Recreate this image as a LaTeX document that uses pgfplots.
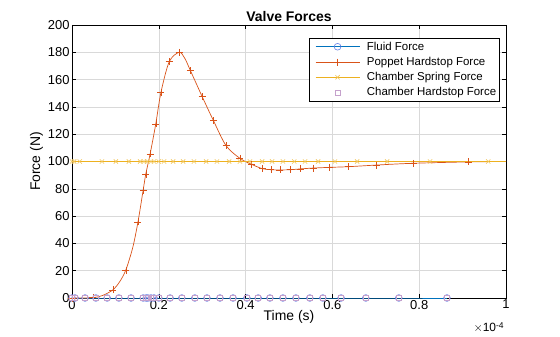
\documentclass[border=0pt]{standalone}
\usepackage{fontspec}
\setmainfont{Liberation Sans}
\usepackage{pgfplots}
\pgfplotsset{compat=1.18}
\definecolor{mblue}{rgb}{0,0.447,0.741}
\definecolor{morange}{rgb}{0.85,0.325,0.098}
\definecolor{myellow}{rgb}{0.929,0.694,0.125}
\definecolor{mpurple}{rgb}{0.494,0.184,0.556}
\definecolor{circcol}{rgb}{0.40,0.50,0.90}
\begin{document}
\begin{tikzpicture}
\useasboundingbox (-72bp,-39bp) rectangle (488bp,298bp);
\begin{axis}[
  name=ax,
  at={(0,0)}, anchor=south west,
  scale only axis,
  width=434bp, height=273bp,
  xmin=0, xmax=1, ymin=0, ymax=200,
  xtick={0,0.2,...,1}, ytick={0,20,...,200},
  xticklabels={0,0.2,0.4,0.6,0.8,1},
  grid=major,
  major grid style={color=black!15, line width=0.5bp},
  tick align=inside, tick pos=both,
  major tick length=4bp,
  axis line style={line width=0.6bp},
  every tick/.style={black, line width=0.5bp},
  tick label style={font=\fontsize{13}{15}\selectfont},
  yticklabel style={xshift=1bp},
  xticklabel style={yshift=1.5bp},
  /pgf/number format/assume math mode=true,
  xlabel={Time (s)}, ylabel={Force (N)},
  label style={font=\fontsize{14}{16}\selectfont},
  xlabel style={yshift=6bp},
  ylabel style={yshift=-2bp},
  title={\textbf{Valve Forces}},
  title style={font=\fontsize{14}{16}\selectfont, yshift=-6bp},
  clip=false,
  legend style={at={(0.986,0.952)}, anchor=north east, draw=black, line width=0.5bp,
    font=\fontsize{11.5}{13}\selectfont, inner sep=1.5bp, row sep=1.5bp,
    cells={anchor=west}},
  legend image code/.code={%
    \path (0bp,0bp) (53bp,0bp);
    \draw[#1, mark indices={2}] plot coordinates {(4bp,0bp) (26bp,0bp) (48bp,0bp)};},
]
% Fluid Force
\addplot[color=mblue, line width=0.7bp, mark=o, mark size=3.4bp,
  mark options={solid, draw=circcol, line width=0.6bp}] coordinates {
(0,0) (0.007,0) (0.030,0) (0.055,0) (0.081,0) (0.108,0) (0.136,0) (0.164,0) (0.171,0) (0.175,0)
(0.182,0) (0.189,0) (0.200,0) (0.226,0) (0.253,0) (0.283,0) (0.311,0) (0.341,0) (0.371,0) (0.403,0)
(0.429,0) (0.456,0) (0.486,0) (0.516,0) (0.548,0) (0.578,0) (0.620,0) (0.677,0) (0.753,0) (0.864,0)
};
\addlegendentry{Fluid Force}
% Poppet Hardstop Force
\addplot[color=morange, line width=0.7bp, smooth, mark=+, mark size=3.5bp,
  mark options={solid, draw=morange, line width=0.5bp},
  mark indices={1,3,5,7,9,10,11,12,13,14,15,16,18,19,20,21,22,23,24,25,26,27,28,29,30,31,32,33,34}] coordinates {
(0,0) (0.02,0) (0.048,0.2) (0.07,1.8) (0.094,5.9) (0.11,12) (0.124,20.5) (0.14,37) (0.152,55.7)
(0.164,79.1) (0.170,90.8) (0.180,105.5) (0.193,127.5) (0.205,150.7) (0.224,173.1) (0.247,180)
(0.260,175.5) (0.273,166.5) (0.300,147.5) (0.326,129.9) (0.355,111.6) (0.387,102.3) (0.414,97.9)
(0.439,94.7) (0.458,94.0) (0.479,93.8) (0.504,94.0) (0.527,94.6) (0.556,95.2) (0.593,95.7)
(0.637,96.2) (0.702,97.4) (0.786,98.7) (0.913,99.7) (1.0,100)
};
\addlegendentry{Poppet Hardstop Force}
% Chamber Spring Force
\addplot[color=myellow, line width=0.7bp, mark=x, mark size=3bp,
  mark options={solid, draw=myellow!75, line width=0.6bp},
  mark indices={1,2,3,4,5,6,7,8,9,10,11,12,13,14,15,16,17,18,19,20,21,22,23,24,25,26,27,28,29,30,31,32}] coordinates {
(0,100) (0.005,100) (0.018,100) (0.069,100) (0.101,100) (0.131,100) (0.157,100) (0.166,100)
(0.173,100) (0.182,100) (0.189,100) (0.200,100) (0.212,100) (0.233,100) (0.256,100) (0.281,100)
(0.309,100) (0.334,100) (0.362,100) (0.387,100) (0.410,100) (0.438,100) (0.461,100) (0.486,100)
(0.512,100) (0.537,100) (0.567,100) (0.606,100) (0.657,100) (0.726,100) (0.825,100) (0.959,100)
(1.0,100)
};
\addlegendentry{Chamber Spring Force}
% Chamber Hardstop Force
\addplot[only marks, mark=square, mark size=2.6bp,
  mark options={draw=mpurple!45, line width=0.6bp}] coordinates {
(0,0) (0.007,0) (0.030,0) (0.055,0) (0.081,0) (0.108,0) (0.136,0) (0.164,0) (0.171,0) (0.175,0)
(0.182,0) (0.189,0) (0.200,0) (0.226,0) (0.253,0) (0.283,0) (0.311,0) (0.341,0) (0.371,0) (0.403,0)
(0.429,0) (0.456,0) (0.486,0) (0.516,0) (0.548,0) (0.578,0) (0.620,0) (0.677,0) (0.753,0) (0.864,0)
};
\addlegendentry{Chamber Hardstop Force}
\node[anchor=north east, font=\fontsize{12}{13}\selectfont, inner sep=0pt] at (rel axis cs:0.995,0) [yshift=-24bp] {$\times$10\raisebox{0.6ex}{\fontsize{8.5}{9}\selectfont -4}};
\end{axis}
\end{tikzpicture}
\end{document}
